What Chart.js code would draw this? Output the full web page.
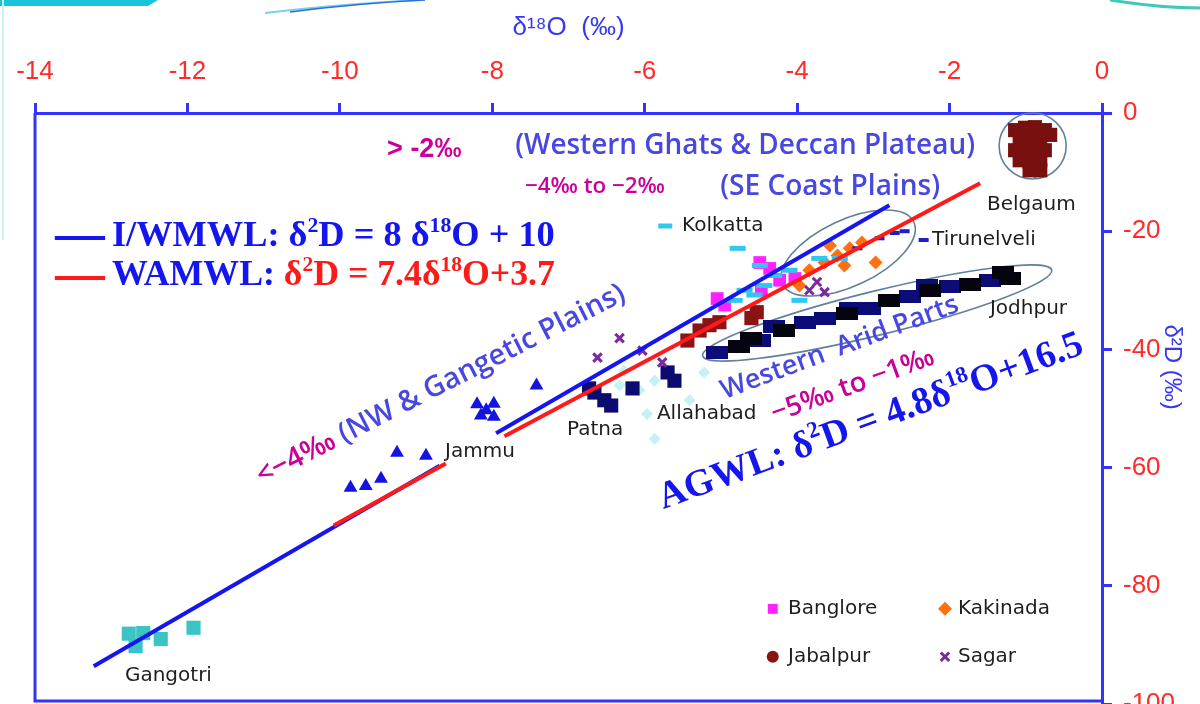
<!DOCTYPE html>
<html><head><meta charset="utf-8">
<script src="https://cdn.jsdelivr.net/npm/chart.js@4.4.1/dist/chart.umd.min.js"></script>
<style>
html,body{margin:0;padding:0;background:#fff;}
#wrap{position:relative;width:1200px;height:704px;overflow:hidden;background:#fff;}
#c{display:block;}
#deco{position:absolute;left:0;top:0;pointer-events:none;}
</style></head><body>
<div id="wrap">
<canvas id="c" width="1200" height="704"></canvas>
<svg id="deco" width="1200" height="704">
  <polygon points="0,0 158,0 148,6 0,6" fill="#16c4dc"/>
  <rect x="2" y="0" width="2" height="240" fill="#c8f4f8"/>
  <path d="M265,13 Q340,4 420,0" stroke="#7ad0f0" stroke-width="2" fill="none"/>
  <path d="M290,12 Q360,3 425,0" stroke="#3070d0" stroke-width="1.5" fill="none"/>
  <path d="M1110,0 Q1160,8 1200,8" stroke="#40c8b8" stroke-width="3" fill="none"/>
</svg>
</div>
<script>
// ---------------- data (δ18O, δ2D) ----------------
const xTicks = [-14,-12,-10,-8,-6,-4,-2,0];
const yTicks = [0,-20,-40,-60,-80,-100];

const iwmwlLow  = [[-13.23,-93.6],[-8.69,-59.7]];
const iwmwlHigh = [[-7.95,-54.2],[-2.79,-15.6]];
const wamwlLow  = [[-10.08,-69.8],[-8.61,-59.3]];
const wamwlHigh = [[-7.84,-54.7],[-1.60,-11.9]];

const gangotri = [[-12.77,-88.1],[-12.68,-90.2],[-12.35,-89.0],[-11.92,-87.1],[-12.58,-88.0]];
const jammu = [[-9.86,-63.4],[-9.66,-63.1],[-9.46,-61.9],[-9.25,-57.5],[-8.87,-58.0],[-8.20,-49.3],[-8.08,-50.3],[-7.98,-49.2],[-8.15,-51.2],[-7.98,-51.4],[-7.42,-46.1]];
const patna = [[-6.66,-47.3],[-6.53,-48.6],[-6.73,-46.6],[-6.44,-49.5],[-6.16,-46.6],[-5.70,-43.9],[-5.61,-45.3]];
const allahabad = [[-6.33,-46.1],[-6.07,-46.9],[-5.87,-45.3],[-5.41,-48.6],[-5.22,-43.9],[-5.87,-55.1],[-6.27,-43.6]];
const sagar = [[-6.33,-38.1],[-6.62,-41.4],[-6.03,-40.2],[-5.77,-42.2],[-3.84,-30.0],[-3.64,-30.3],[-3.74,-28.6]];
const jabalpur = [[-5.28,-36.8],[-5.15,-35.9],[-5.02,-35.4],[-4.60,-34.7],[-4.53,-33.7],[-5.44,-38.5]];
const banglore = [[-5.05,-31.4],[-4.95,-32.5],[-4.49,-25.3],[-4.36,-26.3],[-4.23,-28.3],[-4.03,-28.0],[-4.47,-30.0]];
const kolkatta = [[-4.78,-22.9],[-4.49,-25.8],[-4.69,-30.0],[-4.43,-29.2],[-4.30,-27.5],[-4.10,-26.6],[-4.56,-30.8],[-3.97,-31.7],[-3.71,-24.6],[-3.44,-24.6],[-4.82,-31.7]];
const kakinada = [[-3.84,-26.6],[-3.64,-25.3],[-3.47,-24.1],[-3.31,-22.9],[-3.15,-21.9],[-3.38,-25.8],[-3.97,-29.2],[-2.97,-25.3],[-3.57,-22.4]];
const tirunelveli = [[-3.21,-22.9],[-2.92,-21.2],[-2.72,-20.3],[-2.59,-20.0]];
const jodhpurNavy = [[-5.05,-40.5],[-4.49,-38.5],[-3.90,-35.4],[-3.64,-34.7],[-3.05,-33.1],[-2.52,-31.0],[-2.00,-29.3],[-1.47,-28.3],[-4.30,-36.2],[-3.30,-33.0],[-2.30,-29.2]];
const jodhpurBlack = [[-4.76,-39.5],[-4.17,-36.8],[-3.34,-33.9],[-2.79,-31.7],[-2.26,-30.0],[-1.73,-29.0],[-1.21,-28.0],[-4.60,-38.2],[-1.30,-27.0]];
const belgaum = [[-1.14,-2.9],[-1.01,-2.5],[-0.88,-2.4],[-0.75,-2.9],[-0.68,-3.7],[-0.81,-4.6],[-0.95,-4.6],[-1.08,-4.6],[-1.14,-6.3],[-1.01,-6.3],[-0.88,-6.3],[-0.75,-6.3],[-1.08,-8.0],[-0.95,-8.3],[-0.81,-8.0],[-0.95,-9.7],[-0.81,-9.7]];

// ---------------- helpers ----------------
const pts = a => a.map(p => ({x:p[0], y:p[1]}));
function blockImg(w,h,color){const c=document.createElement('canvas');c.width=w;c.height=h;const g=c.getContext('2d');g.fillStyle=color;g.fillRect(0,0,w,h);return c;}
const BLUE='#1515ee', RED='#ff1a1a', AXIS='#3333ff', TICK='#ff2b2b';

function lineDs(a,color){return {type:'line',data:pts(a),borderColor:color,borderWidth:4,pointRadius:0,fill:false,showLine:true};}
function scat(a,o){return Object.assign({data:pts(a),borderWidth:0},o);}

const styles = {
  gangotri:{pointStyle:'rect',radius:10,backgroundColor:'#3cc4c4'},
  jammu:{pointStyle:'triangle',radius:8,backgroundColor:'#1414e0'},
  patna:{pointStyle:'rect',radius:10,backgroundColor:'#0c0c70'},
  allahabad:{pointStyle:'rectRot',radius:6,backgroundColor:'#c4f2f2'},
  sagar:{pointStyle:'crossRot',radius:6,borderColor:'#7a2a9a',borderWidth:3},
  jabalpur:{pointStyle:'rect',radius:10,backgroundColor:'#8a1414'},
  banglore:{pointStyle:'rect',radius:9,backgroundColor:'#ff22ff'},
  kolkatta:{pointStyle:'line',radius:8,borderColor:'#30c6ee',borderWidth:5},
  kakinada:{pointStyle:'rectRot',radius:7,backgroundColor:'#ff7010'},
  tirunelveli:{pointStyle:'line',radius:5,borderColor:'#2020c8',borderWidth:4},
  belgaum:{pointStyle:'rect',radius:10,backgroundColor:'#781010'}
};
function sds(a,key){const s=styles[key];return scat(a,{pointStyle:s.pointStyle,pointRadius:s.radius,pointBackgroundColor:s.backgroundColor||'transparent',pointBorderColor:s.borderColor||'transparent',pointBorderWidth:s.borderWidth||0});}

const datasets = [
  lineDs(wamwlLow,RED), lineDs(wamwlHigh,RED),
  lineDs(iwmwlLow,BLUE), lineDs(iwmwlHigh,BLUE),
  sds(gangotri,'gangotri'), sds(jammu,'jammu'), sds(sagar,'sagar'),
  sds(kolkatta,'kolkatta'), sds(tirunelveli,'tirunelveli'), sds(kakinada,'kakinada'),
  sds(banglore,'banglore'), sds(jabalpur,'jabalpur'),
  sds(patna,'patna'), sds(allahabad,'allahabad'),
  scat(jodhpurBlack,{pointStyle:blockImg(22,13,'#050510'),pointRadius:8}),
  scat(jodhpurNavy,{pointStyle:blockImg(22,13,'#0c0c78'),pointRadius:8}),
  sds(belgaum,'belgaum')
];
datasets.forEach((d,i)=>{ d.order = i; });

// ---------------- annotations (data coordinates) ----------------
const ellipses = [
  {c:[-3.33,-23.69], e:[-2.47,-18.44], ry:33},
  {c:[-2.95,-33.84], e:[-0.66,-26.56], ry:22},
  {c:[-0.91,-5.58],  e:[-0.47,-5.58],  ry:33}
];
const MAG='#cc0099', TBLUE='#4848e0';
const sans='"Open Sans", "Noto Sans", sans-serif', serif='"Liberation Serif", "DejaVu Serif", serif';
const texts = [
  {at:[-9.38,-6.26], parts:[{t:'> -2‰',c:MAG}], font:'bold', fam:'"Liberation Sans", Arial, sans-serif', size:27},
  {at:[-7.70,-5.58], parts:[{t:'(Western Ghats & Deccan Plateau)',c:TBLUE}], font:'600', fam:sans, w:460},
  {at:[-7.57,-12.52], parts:[{t:'−4‰ to −2‰',c:MAG}], font:'600', fam:sans, w:140},
  {at:[-5.01,-12.52], parts:[{t:'(SE Coast Plains)',c:TBLUE}], font:'600', fam:sans, w:220},
  {at:[-12.99,-20.98], parts:[{t:'I/WMWL: δ',c:BLUE},{t:'2',c:BLUE,sup:1},{t:'D = 8 δ',c:BLUE},{t:'18',c:BLUE,sup:1},{t:'O + 10',c:BLUE}], font:'bold', fam:serif, w:443},
  {at:[-12.99,-27.58], parts:[{t:'WAMWL: ',c:BLUE},{t:'δ',c:RED},{t:'2',c:RED,sup:1},{t:'D = 7.4δ',c:RED},{t:'18',c:RED,sup:1},{t:'O+3.7',c:RED}], font:'bold', fam:serif, w:443},
  {at:[-11.07,-61.76], angle:-27, parts:[{t:'<−4‰ ',c:MAG},{t:'(NW & Gangetic Plains)',c:TBLUE}], font:'600', fam:sans, w:410},
  {at:[-4.99,-47.2], angle:-20.5, parts:[{t:'Western  Arid Parts',c:TBLUE}], font:'600', fam:sans, w:252},
  {at:[-4.33,-51.1], angle:-20, parts:[{t:'−5‰ to −1‰',c:MAG}], font:'600', fam:sans, w:172},
  {at:[-5.80,-65.5], angle:-20.3, parts:[{t:'AGWL: δ',c:BLUE},{t:'2',c:BLUE,sup:1},{t:'D = 4.8δ',c:BLUE},{t:'18',c:BLUE,sup:1},{t:'O+16.5',c:BLUE}], font:'bold', fam:serif, w:450}
];
const labels = [
  {at:[-5.51,-19.12], t:'Kolkatta', key:'kolkatta', mk:-5.73},
  {at:[-2.23,-21.49], t:'Tirunelveli', key:'tirunelveli', mk:-2.34},
  {at:[-1.51,-15.57], t:'Belgaum'},
  {at:[-1.47,-33.16], t:'Jodhpur'},
  {at:[-7.02,-53.64], t:'Patna'},
  {at:[-5.84,-50.93], t:'Allahabad', key:'allahabad', mk:-5.97},
  {at:[-8.62,-57.36], t:'Jammu'},
  {at:[-12.82,-95.26], t:'Gangotri'}
];
const legendItems = [
  {at:[-4.12,-83.9], t:'Banglore', key:'banglore', mk:-4.32},
  {at:[-1.89,-83.9], t:'Kakinada', key:'kakinada', mk:-2.06},
  {at:[-4.12,-92.0], t:'Jabalpur', key:'jabalpur', mk:-4.32, circle:true},
  {at:[-1.89,-92.0], t:'Sagar', key:'sagar', mk:-2.06}
];
const keyLines = [
  {from:[-13.74,-21.15], to:[-13.08,-21.15], color:BLUE},
  {from:[-13.74,-27.92], to:[-13.08,-27.92], color:RED}
];
const yTitle = {text:'δ²D (‰)', at:-43, gap:70};

function richWidth(ctx,parts,size,fam,weight){let w=0;for(const p of parts){const s=p.sup?size*0.6:size;ctx.font=`${weight} ${s}px ${fam}`;w+=ctx.measureText(p.t).width;}return w;}
function drawRich(ctx,item,x,y){
  let size=item.size||24;
  if(item.w) size = size*item.w/richWidth(ctx,item.parts,size,item.fam,item.font);
  ctx.save();ctx.translate(x,y);ctx.rotate((item.angle||0)*Math.PI/180);
  ctx.textBaseline='middle';ctx.textAlign='left';
  let cx=0;
  for(const p of item.parts){const s=p.sup?size*0.6:size;ctx.font=`${item.font} ${s}px ${item.fam}`;ctx.fillStyle=p.c;ctx.fillText(p.t,cx,p.sup?-size*0.3:0);cx+=ctx.measureText(p.t).width;}
  ctx.restore();
}
function marker(ctx,key,x,y,circle){
  const s=styles[key];
  ctx.save();ctx.fillStyle=s.backgroundColor||'transparent';ctx.strokeStyle=s.borderColor||'transparent';ctx.lineWidth=s.borderWidth||0;
  Chart.helpers.drawPoint(ctx,{pointStyle:circle?'circle':s.pointStyle,radius:circle?6:Math.min(s.radius,7),rotation:0,borderWidth:s.borderWidth||0},x,y);
  ctx.restore();
}

const annotPlugin = {
  id:'annot',
  beforeDatasetsDraw(chart){
    const {ctx,chartArea:a,scales:{x,y}}=chart;
    ctx.save();ctx.strokeStyle=AXIS;ctx.lineWidth=3;
    ctx.beginPath();ctx.moveTo(a.left,a.top);ctx.lineTo(a.left,a.bottom-3);ctx.lineTo(a.right,a.bottom-3);ctx.stroke();
    ctx.strokeStyle='#62809c';ctx.lineWidth=1.6;
    for(const e of ellipses){
      const cx=x.getPixelForValue(e.c[0]), cy=y.getPixelForValue(e.c[1]);
      const ex=x.getPixelForValue(e.e[0]), ey=y.getPixelForValue(e.e[1]);
      const rx=Math.hypot(ex-cx,ey-cy), ang=Math.atan2(ey-cy,ex-cx);
      ctx.beginPath();ctx.ellipse(cx,cy,rx,e.ry,ang,0,Math.PI*2);ctx.stroke();
    }
    ctx.restore();
  },
  afterDatasetsDraw(chart){
    const {ctx,chartArea:a,scales:{x,y}}=chart;
    ctx.save();
    for(const k of keyLines){ctx.strokeStyle=k.color;ctx.lineWidth=4;ctx.beginPath();ctx.moveTo(x.getPixelForValue(k.from[0]),y.getPixelForValue(k.from[1]));ctx.lineTo(x.getPixelForValue(k.to[0]),y.getPixelForValue(k.to[1]));ctx.stroke();}
    for(const t of texts) drawRich(ctx,t,x.getPixelForValue(t.at[0]),y.getPixelForValue(t.at[1]));
    ctx.textBaseline='middle';ctx.textAlign='left';
    for(const l of labels.concat(legendItems)){
      if(l.key) marker(ctx,l.key,x.getPixelForValue(l.mk),y.getPixelForValue(l.at[1]),l.circle);
      ctx.font='20px "DejaVu Sans", sans-serif';ctx.fillStyle='#1e1e1e';
      ctx.fillText(l.t,x.getPixelForValue(l.at[0]),y.getPixelForValue(l.at[1]));
    }
    // y-axis title (right side, reading top-to-bottom)
    ctx.translate(a.right+yTitle.gap, y.getPixelForValue(yTitle.at));
    ctx.rotate(Math.PI/2);
    ctx.textAlign='center';ctx.font='24px "Liberation Sans", Arial, sans-serif';ctx.fillStyle='#3838f0';
    ctx.fillText(yTitle.text,0,0);
    ctx.restore();
  }
};

new Chart(document.getElementById('c'),{
  type:'scatter',
  data:{datasets},
  options:{
    responsive:false, animation:false, devicePixelRatio:1,
    layout:{autoPadding:false,padding:{left:35,right:0,top:0,bottom:0}},
    plugins:{legend:{display:false},tooltip:{enabled:false}},
    scales:{
      x:{type:'linear',position:'top',min:-14,max:0,
        afterBuildTicks(s){s.ticks=xTicks.map(v=>({value:v}));},
        ticks:{color:TICK,font:{family:'"Liberation Sans", Arial, sans-serif',size:26},padding:16,maxRotation:0,autoSkip:false,callback:v=>String(v)},
        grid:{drawOnChartArea:false,drawTicks:true,tickLength:10,tickColor:AXIS,tickWidth:3,color:AXIS},
        border:{color:AXIS,width:3},
        title:{display:true,text:'δ¹⁸O  (‰)',color:'#3838f0',font:{family:'"Liberation Sans", Arial, sans-serif',size:26},padding:{top:12,bottom:0}},
        afterFit(s){s.height=113;s.paddingLeft=0;s.paddingRight=0;}
      },
      y:{type:'linear',position:'right',min:-100,max:0,
        afterBuildTicks(s){s.ticks=yTicks.map(v=>({value:v}));},
        ticks:{color:TICK,font:{family:'"Liberation Sans", Arial, sans-serif',size:26},padding:11,autoSkip:false,callback:v=>String(v)},
        grid:{drawOnChartArea:false,drawTicks:true,tickLength:10,tickColor:AXIS,tickWidth:3,color:AXIS},
        border:{color:AXIS,width:3},
        title:{display:false},
        afterFit(s){s.width=98;s.paddingTop=0;s.paddingBottom=0;}
      }
    }
  },
  plugins:[annotPlugin]
});
</script>
</body></html>
